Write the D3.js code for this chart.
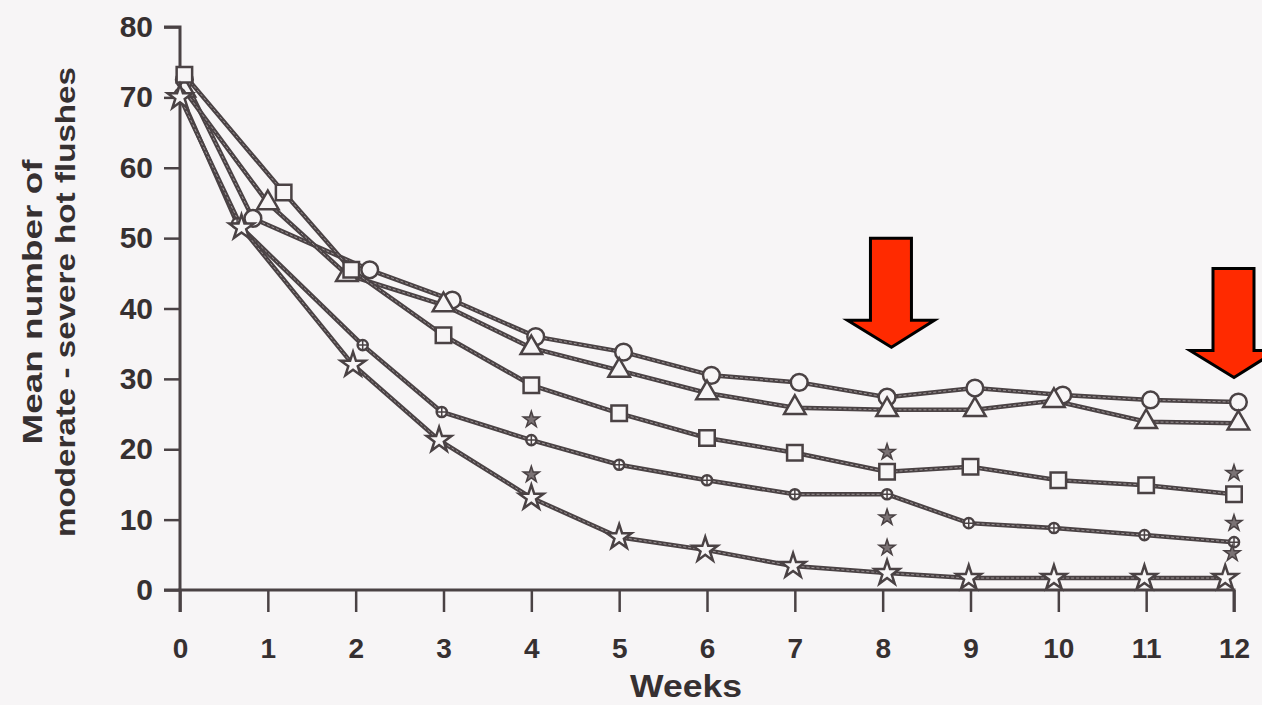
<!DOCTYPE html>
<html>
<head>
<meta charset="utf-8">
<script src="https://cdn.jsdelivr.net/npm/d3@7"></script>
<style>
    html, body { margin: 0; padding: 0; background: #f7f5f6; }
    svg { display: block; font-family: "Liberation Sans", Arial, sans-serif; }
</style>
</head>
<body>
<svg id="chart"></svg>
<script>
const weekTicks = [0, 1, 2, 3, 4, 5, 6, 7, 8, 9, 10, 11, 12];
const valueTicks = [0, 10, 20, 30, 40, 50, 60, 70, 80];

// measurement weeks as plotted (week 1 and 2 markers are staggered in the original)
const circleWeeks   = [0.05, 0.83, 2.16, 3.1, 4.05, 5.05, 6.05, 7.05, 8.05, 9.05, 10.05, 11.05, 12.05];
const triangleWeeks = [0.05, 1.0, 1.9, 3.0, 4.0, 5.0, 6.0, 7.0, 8.05, 9.05, 9.95, 11.0, 12.05];
const squareWeeks   = [0.05, 1.18, 1.95, 3.0, 4.0, 5.0, 6.0, 7.0, 8.05, 9.0, 10.0, 11.0, 12.0];
const dotWeeks      = [0.0, 0.65, 2.08, 2.98, 4.0, 5.0, 6.0, 7.0, 8.05, 8.98, 9.95, 10.98, 12.0];
const starWeeks     = [0.0, 0.7, 1.97, 2.95, 4.0, 5.0, 5.98, 6.98, 8.05, 8.98, 9.95, 10.98, 11.9];

const circleValues   = [72.5, 52.8, 45.5, 41.2, 36.0, 33.8, 30.5, 29.5, 27.4, 28.7, 27.7, 27.0, 26.7];
const triangleValues = [71.0, 55.0, 44.8, 40.5, 34.4, 31.2, 28.0, 25.9, 25.6, 25.6, 26.9, 23.9, 23.7];
const squareValues   = [73.2, 56.5, 45.5, 36.2, 29.1, 25.1, 21.6, 19.5, 16.8, 17.5, 15.6, 14.9, 13.6];
const dotValues      = [70.5, 52.1, 34.8, 25.3, 21.3, 17.8, 15.6, 13.6, 13.6, 9.5, 8.8, 7.8, 6.8];
const starValues     = [70.0, 51.5, 32.0, 21.3, 13.1, 7.5, 5.7, 3.4, 2.4, 1.7, 1.7, 1.7, 1.7];

// significance asterisks (week, value)
const asteriskWeeks  = [4.0, 4.0, 8.05, 8.05, 8.05, 12.0, 12.0, 11.98];
const asteriskValues = [24.2, 16.4, 19.6, 10.3, 6.0, 16.6, 9.5, 5.2];

// highlight arrows: week and value at the arrow tip
const arrowWeeks  = [8.1, 12.0];
const arrowValues = [34.5, 30.2];

const width = 1262;
const height = 705;
const ink = '#4a4244';
const textInk = '#363031';

const svg = d3.select('#chart')
    .attr('width', width)
    .attr('height', height);

const x = d3.scaleLinear().domain([0, 12]).range([180, 1234]);
const y = d3.scaleLinear().domain([0, 80]).range([590, 27]);

// axes
const yAxis = d3.axisLeft(y).tickValues(valueTicks).tickSize(16).tickPadding(11);
const xAxis = d3.axisBottom(x).tickValues(weekTicks).tickSize(22).tickPadding(26);

const gy = svg.append('g')
    .attr('transform', `translate(${x(0)},0)`)
    .call(yAxis);

const gx = svg.append('g')
    .attr('transform', `translate(0,${y(0)})`)
    .call(xAxis);

[gx, gy].forEach(g => {
    g.select('.domain').attr('stroke', ink).attr('stroke-width', 3);
    g.selectAll('.tick line').attr('stroke', ink).attr('stroke-width', 2.5);
    g.selectAll('.tick text')
        .attr('fill', textInk)
        .style('font-weight', 'bold');
});
gy.selectAll('.tick text').style('font-size', '30px');
gx.selectAll('.tick text').style('font-size', '28px');
gy.select('.domain').attr('d', `M-16,${y(80)}H0V${y(0)}H-16`);
gx.select('.domain').attr('d', `M${x(0)},22V0H${x(12)}V22`);

// axis titles
svg.append('text')
    .attr('x', 686)
    .attr('y', 697)
    .attr('text-anchor', 'middle')
    .attr('fill', textInk)
    .attr('textLength', 112)
    .attr('lengthAdjust', 'spacingAndGlyphs')
    .style('font-size', '31px')
    .style('font-weight', 'bold')
    .text('Weeks');

const ylab = svg.append('text')
    .attr('transform', 'translate(0,302) rotate(-90)')
    .attr('text-anchor', 'middle')
    .attr('fill', textInk)
    .style('font-size', '28px')
    .style('font-weight', 'bold');
ylab.append('tspan')
    .attr('x', 0).attr('y', 42)
    .attr('textLength', 285)
    .attr('lengthAdjust', 'spacingAndGlyphs')
    .text('Mean number of');
ylab.append('tspan')
    .attr('x', 0).attr('y', 75)
    .attr('textLength', 470)
    .attr('lengthAdjust', 'spacingAndGlyphs')
    .text('moderate - severe hot flushes');

// series
const series = [
    { weeks: circleWeeks, values: circleValues, marker: 'circle' },
    { weeks: triangleWeeks, values: triangleValues, marker: 'triangle' },
    { weeks: squareWeeks, values: squareValues, marker: 'square' },
    { weeks: dotWeeks, values: dotValues, marker: 'dot' },
    { weeks: starWeeks, values: starValues, marker: 'star' },
].map(s => ({ ...s, points: s.weeks.map((w, i) => [w, s.values[i]]) }));

const line = d3.line().x(d => x(d[0])).y(d => y(d[1]));

const lines = svg.append('g');
series.forEach(s => {
    lines.append('path')
        .attr('d', line(s.points))
        .attr('fill', 'none')
        .attr('stroke', ink)
        .attr('stroke-width', 4.5);
    lines.append('path')
        .attr('d', line(s.points))
        .attr('fill', 'none')
        .attr('stroke', '#9a9294')
        .attr('stroke-width', 1)
        .attr('stroke-dasharray', '3,2');
});

const shapes = {
    circle: d3.symbol(d3.symbolCircle, 220),
    triangle: d3.symbol(d3.symbolTriangle, 200),
    square: d3.symbol(d3.symbolSquare, 240),
    dot: d3.symbol(d3.symbolCircle, 80),
    star: d3.symbol(d3.symbolStar, 190),
};

const marks = svg.append('g');
series.forEach(s => {
    marks.selectAll(null)
        .data(s.points)
        .join('path')
        .attr('transform', d => `translate(${x(d[0])},${y(d[1])})`)
        .attr('d', shapes[s.marker]())
        .attr('fill', '#f7f5f6')
        .attr('stroke', ink)
        .attr('stroke-width', 2.5);
    if (s.marker === 'dot') {
        marks.selectAll(null)
            .data(s.points)
            .join('path')
            .attr('transform', d => `translate(${x(d[0])},${y(d[1])})`)
            .attr('d', 'M-5,0H5M0,-5V5')
            .attr('stroke', ink)
            .attr('stroke-width', 1.5);
    }
});

// asterisks
svg.append('g')
    .selectAll('path')
    .data(asteriskWeeks.map((w, i) => [w, asteriskValues[i]]))
    .join('path')
    .attr('transform', d => `translate(${x(d[0])},${y(d[1])})`)
    .attr('d', d3.symbol(d3.symbolStar, 80)())
    .attr('fill', '#7a7274')
    .attr('stroke', ink)
    .attr('stroke-width', 1.5);

// red arrows
const arrowPath = 'M-21,-109H20V-27H43L0,0L-44,-27H-21Z';
svg.append('g')
    .selectAll('path')
    .data(arrowWeeks.map((w, i) => [w, arrowValues[i]]))
    .join('path')
    .attr('transform', d => `translate(${x(d[0])},${y(d[1])})`)
    .attr('d', arrowPath)
    .attr('fill', '#ff2a00')
    .attr('stroke', '#000')
    .attr('stroke-width', 3)
    .attr('stroke-linejoin', 'miter');
</script>
</body>
</html>
